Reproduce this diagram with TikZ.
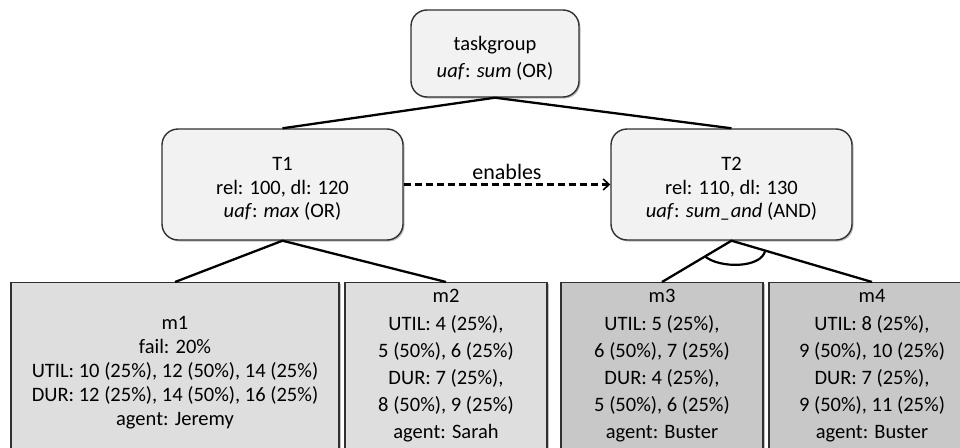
\documentclass[tikz,border=0pt]{standalone}
\usepackage{fontspec}
\setmainfont{Carlito}
\usetikzlibrary{arrows.meta,shadows,calc}
\definecolor{rfill}{HTML}{F2F2F2}
\definecolor{lfill}{HTML}{DEDEDE}
\definecolor{dfill}{HTML}{C8C8C8}
\definecolor{edge}{HTML}{303030}
\begin{document}
\begin{tikzpicture}[x=1pt,y=-1pt,
  shadowed/.style={drop shadow={shadow xshift=1.5pt,shadow yshift=-1.5pt,fill=black,opacity=0.25}},
  tbox/.style={draw=edge,line width=1.4pt,fill=rfill,rounded corners=16pt,inner sep=0pt,shadowed},
  ttext/.style={align=center,inner sep=0pt,font=\fontsize{20.5}{23.5}\selectfont},
  mbox/.style={draw=edge,line width=1.4pt,inner sep=0pt,minimum height=230pt,anchor=north,shadowed},
  mtext/.style={align=center,inner sep=0pt,font=\fontsize{20.5}{27.2}\selectfont},
  conn/.style={line width=2.3pt,black},
  ]
\useasboundingbox (0,0) rectangle (960,447);
\clip (0,0) rectangle (960,447);

% top level boxes
\node[tbox,minimum width=168pt,minimum height=87pt] (tg) at (495,53.5) {};
\node[tbox,minimum width=241pt,minimum height=111pt] (T1) at (282.5,184.5) {};
\node[tbox,minimum width=241pt,minimum height=111pt] (T2) at (731.5,184.5) {};

\node[ttext,font=\fontsize{20.5}{27}\selectfont] (tgt) at (495,58)
  {taskgroup\\\textit{uaf}: \textit{sum} (OR)};
\node[ttext] (T1t) at (282.5,189)
  {T1\\rel: 100, dl: 120\\\textit{uaf}: \textit{max} (OR)};
\node[ttext] (T2t) at (731.5,189)
  {T2\\rel: 110, dl: 130\\\textit{uaf}: \textit{sum\_and} (AND)};

% method boxes
\node[mbox,fill=lfill,minimum width=328pt] (mb1) at (175,282) {};
\node[mbox,fill=lfill,minimum width=202pt] (mb2) at (446,282) {};
\node[mbox,fill=dfill,minimum width=202pt] (mb3) at (662,282) {};
\node[mbox,fill=dfill,minimum width=206pt] (mb4) at (872,282) {};

\node[mtext,font=\fontsize{20.5}{24}\selectfont] (m1) at (175,373)
  {m1\\fail: 20\%\\UTIL: 10 (25\%), 12 (50\%), 14 (25\%)\\DUR: 12 (25\%), 14 (50\%), 16 (25\%)\\agent: Jeremy};
\node[mtext] (m2) at (446,366)
  {m2\\UTIL: 4 (25\%),\\5 (50\%), 6 (25\%)\\DUR: 7 (25\%),\\8 (50\%), 9 (25\%)\\agent: Sarah};
\node[mtext] (m3) at (662,366)
  {m3\\UTIL: 5 (25\%),\\6 (50\%), 7 (25\%)\\DUR: 4 (25\%),\\5 (50\%), 6 (25\%)\\agent: Buster};
\node[mtext] (m4) at (872,366)
  {m4\\UTIL: 8 (25\%),\\9 (50\%), 10 (25\%)\\DUR: 7 (25\%),\\9 (50\%), 11 (25\%)\\agent: Buster};

% connectors
\draw[conn] (T1.north) -- (tg.south) -- (T2.north);
\draw[conn] (mb1.north) -- (T1.south) -- (mb2.north);
\draw[conn] (mb3.north) -- (T2.south) -- (mb4.north);

% AND arc
\coordinate (a1) at ($(T2.south)!0.38!(mb3.north)$);
\coordinate (a2) at ($(T2.south)!0.24!(mb4.north)$);
\draw[line width=2.2pt] (a1) .. controls ($(a1)+(14,12)$) and ($(a2)+(-4,18)$) .. (a2);

% enables
\draw[line width=2.1pt,dash pattern=on 7pt off 4pt,-{Straight Barb[length=6pt,width=11pt,line width=1.6pt]}]
  (T1.east) -- (T2.west) node[midway,yshift=13pt,inner sep=0pt,font=\fontsize{22}{26}\selectfont] (en) {enables};
\end{tikzpicture}
\end{document}
